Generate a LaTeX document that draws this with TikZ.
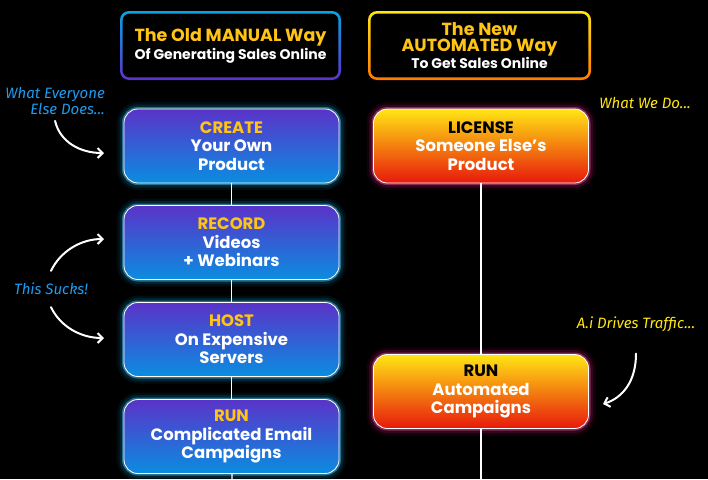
\documentclass[tikz,border=0pt]{standalone}
\usepackage{fontspec}
\setmainfont{Poppins}
\newfontfamily\mano{Fira Sans}
\usetikzlibrary{arrows.meta, positioning}
\definecolor{morado}{HTML}{5A33C9}
\definecolor{azul}{HTML}{0A8DE0}
\definecolor{amarillo}{HTML}{FFC414}
\definecolor{limon}{HTML}{FFE614}
\definecolor{rojo}{HTML}{E8180C}
\definecolor{celeste}{HTML}{1E9BF0}
\definecolor{naranja}{HTML}{FF7A00}
\definecolor{fucsia}{HTML}{C0106A}
\tikzstyle{caja} = [draw=white, line width=0.8pt, rounded corners=14pt, minimum width=215pt, minimum height=74pt, align=center, text=white, font=\bfseries\fontsize{16.5}{18.5}\selectfont]
\tikzstyle{viejo} = [caja, top color=morado, bottom color=azul, preaction={draw=cyan, line width=14pt, draw opacity=0.08}, preaction={draw=cyan, line width=9pt, draw opacity=0.15}, preaction={draw=cyan!60!white, line width=4pt, draw opacity=0.45}]
\tikzstyle{nuevo} = [caja, top color=limon, bottom color=rojo, preaction={draw=fucsia, line width=14pt, draw opacity=0.1}, preaction={draw=fucsia, line width=9pt, draw opacity=0.2}, preaction={draw=fucsia!70!white, line width=4pt, draw opacity=0.5}]
\tikzstyle{titulo} = [rounded corners=9pt, align=center, text=white, path picture={\fill[black, rounded corners=7pt] ([shift={(2.6pt,2.6pt)}]path picture bounding box.south west) rectangle ([shift={(-2.6pt,-2.6pt)}]path picture bounding box.north east);}]
\tikzstyle{nota} = [font=\mano\itshape\fontsize{15}{16}\selectfont, align=right, inner sep=0pt]
\tikzstyle{flecha} = [draw=white, line width=2pt, line cap=round, -{Straight Barb[length=5pt, width=10pt, line width=2pt]}]
\tikzstyle{linea} = [draw=white, line width=1.2pt]
\begin{document}
\begin{tikzpicture}[x=1pt, y=-1pt]
	\fill[black] (0,0) rectangle (708,479);
	\useasboundingbox (0,0) rectangle (708,479);
	\node[titulo, top color=azul!80!cyan, bottom color=morado, minimum width=221pt, minimum height=69pt, font=\bfseries\fontsize{14}{18}\selectfont] (manual) at (230.5,45.5) {%
		\textcolor{amarillo}{\fontsize{17.5}{18}\selectfont The Old MANUAL Way}\\
		Of Generating Sales Online};
	\node[titulo, top color=limon, bottom color=naranja, minimum width=223pt, minimum height=69pt, font=\bfseries\fontsize{14}{16.5}\selectfont] (automatico) at (479.5,45.5) {%
		\textcolor{amarillo}{\fontsize{17.5}{16.5}\selectfont The New}\\
		\textcolor{amarillo}{\fontsize{17.5}{16.5}\selectfont AUTOMATED Way}\\
		To Get Sales Online};
	\node[viejo] (crear) at (231.5,146) {\textcolor{amarillo}{CREATE}\\Your Own\\Product};
	\node[viejo] (grabar) at (231.5,242.5) {\textcolor{amarillo}{RECORD}\\Videos\\+ Webinars};
	\node[viejo] (alojar) at (231.5,339.5) {\textcolor{amarillo}{HOST}\\On Expensive\\Servers};
	\node[viejo] (correr) at (231.5,436.5) {\textcolor{amarillo}{RUN}\\Complicated Email\\Campaigns};
	\node[nuevo] (licencia) at (481,146) {\textcolor{black}{LICENSE}\\Someone Else’s\\Product};
	\node[nuevo] (campanas) at (481,391.5) {\textcolor{black}{RUN}\\Automated\\Campaigns};
	\coordinate (finA) at (232,479);
	\coordinate (finB) at (481,479);
	\draw[linea] (crear) -- (grabar);
	\draw[linea] (grabar) -- (alojar);
	\draw[linea] (alojar) -- (correr);
	\draw[linea] (correr) -- (finA);
	\draw[linea] (licencia) -- (campanas);
	\draw[linea] (campanas) -- (finB);
	\node[nota, text=celeste, anchor=east] (todos) at (105,101) {What Everyone\\Else Does...};
	\node[nota, text=limon] (nosotros) at (645,103) {What We Do...};
	\node[nota, text=celeste] (apesta) at (51,289) {This Sucks!};
	\node[nota, text=limon] (trafico) at (636,324) {A.i Drives Traffic...};
	\coordinate (p1) at (104,153);
	\coordinate (p2) at (104,239);
	\coordinate (p3) at (104,338);
	\coordinate (p4) at (603,404);
	\draw[flecha] ([yshift=-6pt]todos.south) .. controls (60,142) and (80,153) .. (p1);
	\draw[flecha] ([yshift=12pt]apesta.north) .. controls (60,252) and (80,239) .. (p2);
	\draw[flecha] ([yshift=-12pt]apesta.south) .. controls (60,326) and (80,338) .. (p3);
	\draw[flecha] ([yshift=-22pt]trafico.south) .. controls (636,382) and (622,398) .. (p4);
\end{tikzpicture}
\end{document}
